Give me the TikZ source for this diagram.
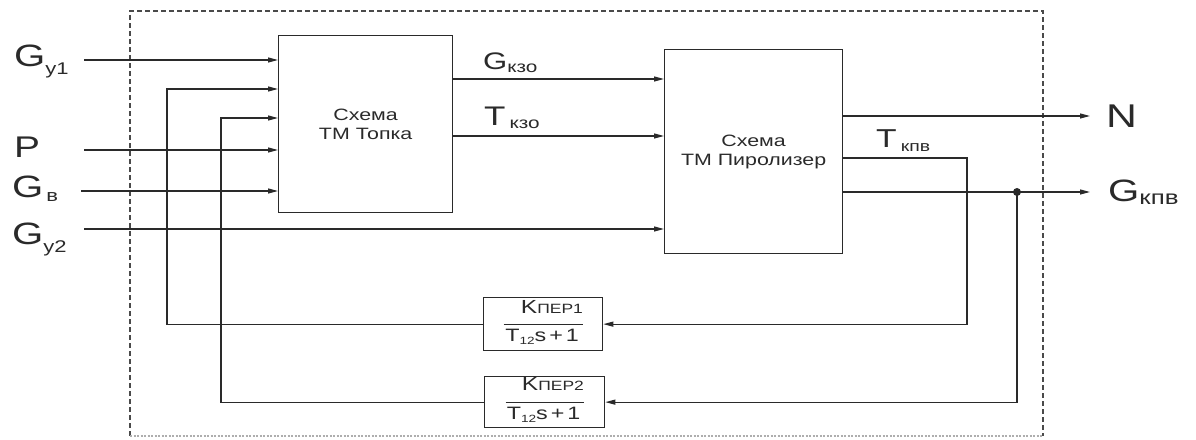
\documentclass[tikz,border=0pt]{standalone}
\usepackage{fontspec}
\setmainfont{Liberation Sans}[FakeStretch=1.3]
\usetikzlibrary{arrows.meta}
\definecolor{ink}{HTML}{2A2A2A}
\definecolor{framegray}{HTML}{4A4A4A}
% a letter with a lowered index: #1 size, #2 letter, #3 index size, #4 index, #5 drop
\newcommand\idxlabel[5]{{\fontsize{#1}{#1}\selectfont #2}\raisebox{-#5}{\fontsize{#3}{#3}\selectfont #4}}
\begin{document}
\begin{tikzpicture}[x=1bp,y=-1bp,
  wire/.style={draw=ink,line width=1.2bp},
  feed/.style={wire,-{Triangle[length=10bp,width=5bp]}},
  block/.style={draw=ink,line width=1.3bp,inner sep=0pt,anchor=north west,
    align=center,text=ink,font=\fontsize{16.5}{19}\selectfont},
  fblock/.style={draw=ink,line width=1.3bp,inner sep=0pt,anchor=north west},
  lab/.style={inner sep=0pt,anchor=base west,text=ink},
  num/.style={inner sep=0pt,anchor=base east,text=ink},
  den/.style={inner sep=0pt,anchor=base,text=ink},
  bar/.style={draw=ink,line width=1.2bp},
  frame/.style={draw=framegray,line width=1.2bp,dash pattern=on 5bp off 3bp}]
\useasboundingbox (0,0) rectangle (1196,440);

% dashed boundary of the object
\draw[frame] (130,436) -- (130,11) -- (1043,11) -- (1043,436);
\draw[draw=framegray!45,line width=1.1bp,dash pattern=on 2bp off 1.5bp] (130,436) -- (1043,436);

% main blocks
\node[block,minimum width=174bp,minimum height=177bp] (topka) at (278,35) {Схема\\ТМ Топка};
\node[block,minimum width=178bp,minimum height=204bp] (piro) at (664,49) {Схема\\ТМ Пиролизер};

% feedback transfer blocks
\node[fblock,minimum width=119bp,minimum height=53bp] (f1) at (483,297) {};
\node[fblock,minimum width=120bp,minimum height=51bp] (f2) at (484,376) {};
\draw[bar] ([xshift=-39.5bp]f1.center) -- ([xshift=39.5bp]f1.center);
\node[num] (f1num) at ([xshift=40bp,yshift=10.5bp]f1.center)
  {\fontsize{19}{19}\selectfont K\fontsize{13.5}{13.5}\selectfont ПЕР1};
\node[den] (f1den) at ([xshift=-1bp,yshift=-17bp]f1.center)
  {\fontsize{18}{18}\selectfont T\raisebox{-3bp}{\fontsize{10.5}{10.5}\selectfont 12}s\,+\,1};
\draw[bar] ([xshift=-39bp]f2.center) -- ([xshift=39bp]f2.center);
\node[num] (f2num) at ([xshift=39.5bp,yshift=12bp]f2.center)
  {\fontsize{19}{19}\selectfont K\fontsize{13.5}{13.5}\selectfont ПЕР2};
\node[den] (f2den) at ([xshift=-1bp,yshift=-17bp]f2.center)
  {\fontsize{18}{18}\selectfont T\raisebox{-3bp}{\fontsize{10.5}{10.5}\selectfont 12}s\,+\,1};

% input signals
\coordinate (gy1) at (84,60);
\coordinate (pin) at (84,150);
\coordinate (gb) at (81,191);
\coordinate (gy2) at (84,229);
\node[lab] (Lgy1) at (14,67) {\idxlabel{31}{G}{17}{у1}{8bp}};
\node[lab] (Lp) at (14,158) {\fontsize{30}{30}\selectfont P};
\node[lab] (Lgb) at (12,198) {\idxlabel{31}{G}{17}{\kern3bp в}{4bp}};
\node[lab] (Lgy2) at (12,245) {\idxlabel{31}{G}{17}{у2}{8bp}};
\draw[feed] (gy1) -- (gy1 -| topka.west);
\draw[feed] (pin) -- (pin -| topka.west);
\draw[feed] (gb) -- (gb -| topka.west);
\draw[feed] (gy2) -- (gy2 -| piro.west);

% links between the two blocks
\coordinate (gkzo) at (0,79);
\coordinate (tkzo) at (0,136);
\draw[feed] (topka.east |- gkzo) -- (piro.west |- gkzo);
\draw[feed] (topka.east |- tkzo) -- (piro.west |- tkzo);
\node[lab] (Lgkzo) at (483,70) {\idxlabel{24}{G}{16}{кзо}{3bp}};
\node[lab] (Ltkzo) at (484,126) {\idxlabel{27}{T}{16}{\kern4bp кзо}{3bp}};

% outputs
\coordinate (nend) at (1090,116);
\coordinate (tk) at (967,158);
\coordinate (gend) at (1090,192);
\coordinate (jn) at (1017,192);
\draw[feed] (nend -| piro.east) -- (nend);
\draw[feed] (gend -| piro.east) -- (gend);
\node[lab] (Ln) at (1106,128) {\fontsize{33}{33}\selectfont N};
\node[lab] (Lgkpv) at (1108,202) {\idxlabel{31}{G}{20}{кпв}{3bp}};
\node[lab] (Ltkpv) at (876,148) {\idxlabel{26}{T}{15}{\kern4bp кпв}{4bp}};

% feedback paths
\draw[feed] (tk -| piro.east) -- (tk) |- (f1.east);
\fill[ink] (jn) circle (4bp);
\draw[feed] (jn) |- (f2.east);
\coordinate (fb1) at (167,89);
\coordinate (fb2) at (221,118);
\draw[feed] (f1.west) -| (fb1) -- (fb1 -| topka.west);
\draw[feed] (f2.west) -| (fb2) -- (fb2 -| topka.west);
\end{tikzpicture}
\end{document}
